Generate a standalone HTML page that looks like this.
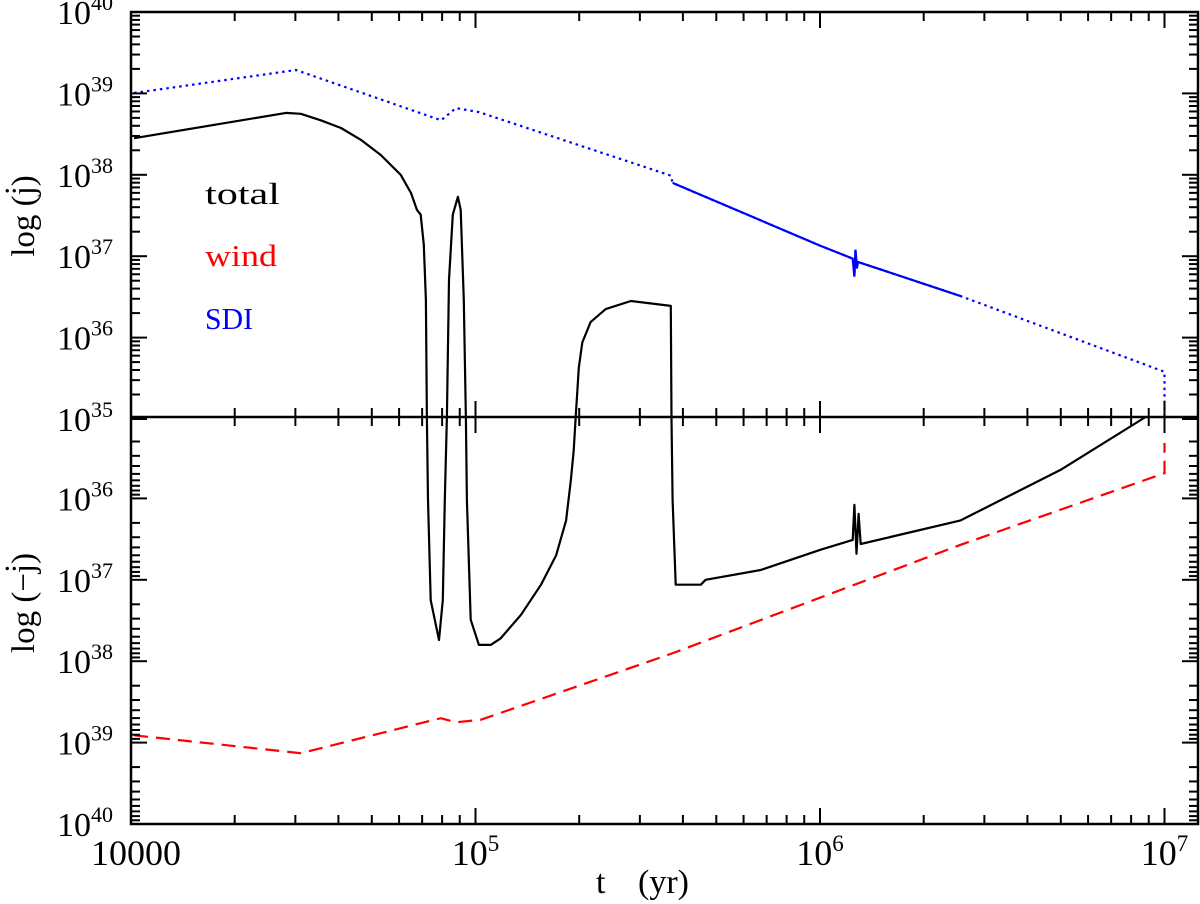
<!DOCTYPE html>
<html><head><meta charset="utf-8"><style>
html,body{margin:0;padding:0;background:#fff;}
svg{display:block;font-family:"Liberation Serif",serif;}
</style></head><body>
<svg id="chart" width="1200" height="904" viewBox="0 0 1200 904" xmlns="http://www.w3.org/2000/svg">
<g id="marks"></g>
<g id="axes"></g>
<text x="205" y="204" font-size="31" textLength="75" lengthAdjust="spacingAndGlyphs" fill="#000">total</text>
<text x="205" y="266" font-size="31" textLength="72" lengthAdjust="spacingAndGlyphs" fill="#f00">wind</text>
<text x="205" y="329" font-size="31" textLength="48" lengthAdjust="spacingAndGlyphs" fill="#00f">SDI</text>
<text x="596" y="893" font-size="34">t</text>
<text x="638" y="893" font-size="34">(yr)</text>
<text transform="translate(34,216) rotate(-90)" text-anchor="middle" font-size="33">log (j̇)</text>
<text transform="translate(34,603) rotate(-90)" text-anchor="middle" font-size="33">log (−j̇)</text>
</svg>
<script>
// data (log10 t, log10 |J|)
const sdiT = [4.009,4.479,4.90,4.943,5.01,5.567,5.572,6.0,6.095,6.1,6.103,6.107,6.11,6.408,7.0,7.0];
const sdiJ = [39.005,39.287,38.67,38.82,38.77,37.99,37.90,37.13,36.97,36.75,37.08,36.85,36.93,36.51,35.58,35.0];
const totT = [4.009,4.45,4.493,4.551,4.6096,4.667,4.725,4.783,4.8128,4.83,4.841,4.85,4.856,4.859,4.862,4.87,4.894,4.905,4.911,4.917,4.923,4.934,4.949,4.957,4.966,4.972,4.975,4.986,5.01,5.044,5.073,5.132,5.19,5.234,5.263,5.277,5.285,5.291,5.3,5.31,5.334,5.378,5.451,5.567,5.569,5.572,5.581,5.654,5.668,5.828,6.002,6.095,6.1,6.106,6.112,6.118,6.408,6.698,6.945];
const totJ = [38.45,38.76,38.75,38.67,38.575,38.43,38.243,38.0,37.776,37.57,37.51,37.14,36.46,35.0,36.02,37.25,37.74,37.25,36.02,35.0,36.71,37.51,37.73,37.57,36.46,35.0,36.02,37.49,37.8,37.8,37.72,37.43,37.06,36.70,36.27,35.77,35.41,35.0,35.63,35.94,36.19,36.35,36.45,36.39,35.0,36.02,37.06,37.06,37.0,36.88,36.63,36.51,36.08,36.68,36.19,36.56,36.27,35.65,35.0];
const totSign = [1,1,1,1,1,1,1,1,1,1,1,1,1,1,-1,-1,-1,-1,-1,-1,1,1,1,1,1,1,-1,-1,-1,-1,-1,-1,-1,-1,-1,-1,-1,-1,1,1,1,1,1,1,1,-1,-1,-1,-1,-1,-1,-1,-1,-1,-1,-1,-1,-1,-1];
const windT = [4.009,4.493,4.899,4.943,5.015,5.567,6.408,7.0,7.0];
const windJ = [38.91,39.13,38.70,38.75,38.72,37.91,36.57,35.69,35.32];
const xTickExps = [4,5,6,7];
const xTickLabels = ["10000","10<tspan dy='-14' font-size='23'>5</tspan>","10<tspan dy='-14' font-size='23'>6</tspan>","10<tspan dy='-14' font-size='23'>7</tspan>"];
const yTickExps = [40,39,38,37,36,35];

const X0=131, DEC=344.5, TOP=12, MID=417, BOT=824, YD=81.4, RIGHT=1198;
const NS="http://www.w3.org/2000/svg";
function xs(lt){return X0+(lt-4)*DEC;}
function yTop(l){return TOP+(40-l)*YD;}
function yBot(l){return MID+(l-35)*YD;}
const marks=document.getElementById('marks'), axes=document.getElementById('axes');
function mk(tag,attrs,parent){const e=document.createElementNS(NS,tag);for(const k in attrs)e.setAttribute(k,attrs[k]);parent.appendChild(e);return e;}
function pts(T,J,fy){return T.map((t,i)=>xs(t).toFixed(1)+','+fy(J[i],i).toFixed(1)).join(' ');}

let p=mk('polyline',{points:pts(sdiT,sdiJ,(j)=>yTop(j)),fill:'none',stroke:'#00f','stroke-width':2.2,'stroke-dasharray':'2.5,4'},marks);


const dT=[],dJ=[];
sdiT.forEach((t,i)=>{if(t>=5.572&&t<=6.408){dT.push(t);dJ.push(sdiJ[i]);}});
p=mk('polyline',{points:pts(dT,dJ,(j)=>yTop(j)),fill:'none',stroke:'#00f','stroke-width':2.2},marks);


p=mk('polyline',{points:pts(windT,windJ,(j)=>yBot(j)),fill:'none',stroke:'#f00','stroke-width':2.2,'stroke-dasharray':'14,8'},marks);


p=mk('polyline',{points:pts(totT,totJ,(j,i)=>totSign[i]>0?yTop(j):yBot(j)),fill:'none',stroke:'#000','stroke-width':2.2,'stroke-linejoin':'round'},marks);



let f=mk('rect',{x:X0,y:TOP,width:RIGHT-X0,height:BOT-TOP,fill:'none',stroke:'#000','stroke-width':2.5},axes);


let m=mk('line',{x1:X0,y1:MID,x2:RIGHT,y2:MID,stroke:'#000','stroke-width':2.5},axes);


for(let d=4;d<=7;d++){for(let k=1;k<=9;k++){const lt=d+Math.log10(k);const x=xs(lt);if(x>RIGHT)break;const L=k===1?16:9;
 mk('line',{x1:x,y1:BOT,x2:x,y2:BOT-L,stroke:'#000','stroke-width':2},axes);
 mk('line',{x1:x,y1:TOP,x2:x,y2:TOP+L,stroke:'#000','stroke-width':2},axes);
 mk('line',{x1:x,y1:MID-L,x2:x,y2:MID+L,stroke:'#000','stroke-width':2},axes);}}
for(let d=0;d<5;d++){for(let k=1;k<=9;k++){const off=Math.log10(k)*YD;const L=k===1?16:9;
 const yt=yTop(35+d)-off, yb=yBot(35+d)+off;
 [yt,yb].forEach(y=>{mk('line',{x1:X0,y1:y,x2:X0+L,y2:y,stroke:'#000','stroke-width':2},axes);mk('line',{x1:RIGHT,y1:y,x2:RIGHT-L,y2:y,stroke:'#000','stroke-width':2},axes);});}}
xTickExps.forEach((d,i)=>{const t=mk('text',{x:xs(d)+(i===0?5:0),y:865,'font-size':36,'text-anchor':'middle'},axes);t.innerHTML=xTickLabels[i];
 
 });
yTickExps.forEach(e=>{[[yTop(e),'top'],[yBot(e),'bot']].forEach(([y,w])=>{if(w==='bot'&&e===35)return;
 const t=mk('text',{x:113,y:y+12,'font-size':34,'text-anchor':'end'},axes);
 t.innerHTML="10<tspan dy='-14' font-size='22'>"+e+"</tspan>";
 
 });});
</script>
</body></html>
